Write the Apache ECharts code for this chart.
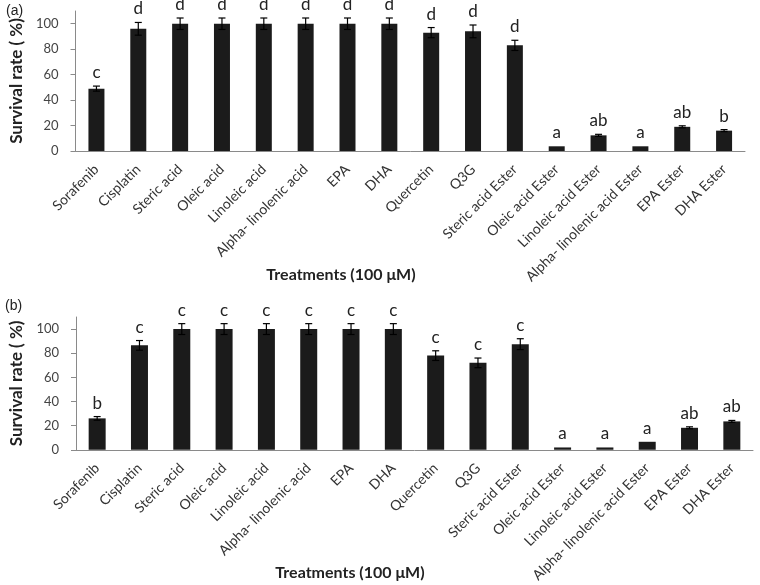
<!DOCTYPE html>
<html><head><meta charset="utf-8">
<script src="https://cdn.jsdelivr.net/npm/echarts@6/dist/echarts.min.js"></script>
<style>html,body{margin:0;padding:0;background:#fff}#c{width:760px;height:585px}</style>
</head><body><div id="c"></div>
<script>
const categories = ['Sorafenib','Cisplatin','Steric acid','Oleic acid','Linoleic acid','Alpha- linolenic acid','EPA','DHA','Quercetin','Q3G','Steric acid Ester','Oleic acid Ester','Linoleic acid Ester','Alpha- linolenic acid Ester','EPA Ester','DHA Ester'];
const valuesA = [49, 96, 100, 100, 100, 100, 100, 100, 93, 94, 83, 3.7, 12.3, 3.7, 19, 16];
const errorsA = [2, 5, 4.5, 4.5, 4.5, 4.5, 4.5, 4.5, 4, 5, 4, 0, 0.8, 0, 0.8, 0.8];
const lettersA = ['c','d','d','d','d','d','d','d','d','d','d','a','ab','a','ab','b'];
const valuesB = [26, 86.5, 100, 100, 100, 100, 100, 100, 78, 72, 87.5, 1.9, 1.9, 6.6, 18.2, 23.5];
const errorsB = [1.5, 4, 4.5, 4.5, 4.5, 4.5, 4.5, 4.5, 4, 4, 4.5, 0, 0, 0, 0.8, 0.8];
const lettersB = ['b','c','c','c','c','c','c','c','c','c','c','a','a','a','ab','ab'];
const yTicks = {min: 0, max: 110, interval: 20};

const chart = echarts.init(document.getElementById('c'), null, {renderer: 'canvas'});
const FONT = 'Lato';
const axisGray = '#8a8a8a';

function yAxis(idx, gap) {
  return {
    type: 'value', gridIndex: idx, min: yTicks.min, max: yTicks.max, interval: yTicks.interval,
    axisLine: {show: true, lineStyle: {color: axisGray, width: 1}},
    axisTick: {show: true, length: 5, lineStyle: {color: axisGray}},
    splitLine: {show: false},
    axisLabel: {fontFamily: FONT, fontSize: 13, color: '#444', margin: 17, showMaxLabel: false,
      formatter: v => v > 100 ? '' : String(v)},
    name: 'Survival rate ( %)', nameLocation: 'middle', nameGap: gap,
    nameTextStyle: {fontFamily: FONT, fontWeight: 'bold', fontSize: 17, color: '#222'}
  };
}
function xAxis(idx) {
  return {
    type: 'category', gridIndex: idx, data: categories,
    axisLine: {show: true, lineStyle: {color: axisGray, width: 1}},
    axisTick: {show: false},
    axisLabel: {interval: 0, rotate: 45, fontFamily: FONT, fontSize: 14, color: '#333', margin: 16}
  };
}
function errSeries(idx, vals, errs, letters) {
  return {
    type: 'custom', xAxisIndex: idx, yAxisIndex: idx, z: 10,
    data: vals.map((v, i) => [i, v, errs[i]]),
    renderItem: function (params, api) {
      const i = api.value(0), v = api.value(1), e = api.value(2), L = letters[params.dataIndex];
      const top = api.coord([i, v + e]);
      const bot = api.coord([i, v - e]);
      const children = [];
      if (e > 0) {
        const cw = 3.5;
        children.push({type: 'line', shape: {x1: top[0], y1: top[1], x2: bot[0], y2: bot[1]}, style: {stroke: '#000', lineWidth: 1.2}});
        children.push({type: 'line', shape: {x1: top[0] - cw, y1: top[1], x2: top[0] + cw, y2: top[1]}, style: {stroke: '#000', lineWidth: 1.2}});
        children.push({type: 'line', shape: {x1: bot[0] - cw, y1: bot[1], x2: bot[0] + cw, y2: bot[1]}, style: {stroke: '#000', lineWidth: 1.2}});
      }
      children.push({type: 'text', style: {text: L, x: top[0], y: top[1] - 5, align: 'center', verticalAlign: 'bottom',
        font: '17px ' + FONT, fill: '#222'}});
      return {type: 'group', children: children};
    }
  };
}

chart.setOption({
  animation: false,
  backgroundColor: '#fff',
  grid: [
    {left: 71.5, right: 15, top: 11, bottom: 434},
    {left: 74.5, right: 7, top: 317, bottom: 135}
  ],
  xAxis: [xAxis(0), xAxis(1)],
  yAxis: [yAxis(0, 46), yAxis(1, 51)],
  graphic: [
    {type: 'text', left: 6, top: 4, style: {text: '(a)', font: '14px "Liberation Sans"', fill: '#222'}},
    {type: 'text', left: 5, top: 299, style: {text: '(b)', font: '14px "Liberation Sans"', fill: '#222'}},
    {type: 'text', x: 341, y: 275, style: {text: 'Treatments (100 \u03bcM)', font: 'bold 16px ' + FONT, fill: '#222', align: 'center', verticalAlign: 'middle'}},
    {type: 'text', x: 350, y: 573, style: {text: 'Treatments (100 \u03bcM)', font: 'bold 16px ' + FONT, fill: '#222', align: 'center', verticalAlign: 'middle'}}
  ],
  series: [
    {type: 'bar', xAxisIndex: 0, yAxisIndex: 0, data: valuesA, barWidth: 16, itemStyle: {color: '#1b1b1b'}},
    {type: 'bar', xAxisIndex: 1, yAxisIndex: 1, data: valuesB, barWidth: 17, itemStyle: {color: '#1b1b1b'}},
    errSeries(0, valuesA, errorsA, lettersA),
    errSeries(1, valuesB, errorsB, lettersB)
  ]
});
</script></body></html>
